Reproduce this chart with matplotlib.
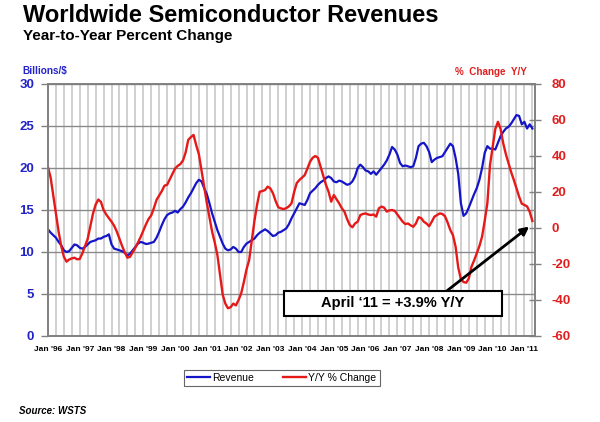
import numpy as np
import matplotlib
matplotlib.use('Agg')
import matplotlib.pyplot as plt
from matplotlib.patches import Rectangle

plt.rcParams['font.family'] = ['Liberation Sans', 'DejaVu Sans']
plt.rcParams['axes.unicode_minus'] = False

# Monthly data, Jan 1996 .. Apr 2011 (3-month average revenue, $B, and Y/Y % change)
revenue = [
    12.7, 12.3, 12.0, 11.7, 11.2, 10.8, 10.2, 10.0, 10.1, 10.5, 10.9, 10.8,   # 1996
    10.5, 10.4, 10.6, 10.9, 11.2, 11.3, 11.4, 11.6, 11.6, 11.8, 11.9, 12.1,   # 1997
    10.9, 10.4, 10.3, 10.2, 10.1, 9.9, 9.6, 9.8, 10.2, 10.6, 11.0, 11.2,      # 1998
    11.1, 10.95, 11.0, 11.1, 11.2, 11.7, 12.4, 13.2, 13.9, 14.4, 14.6, 14.7,  # 1999
    14.9, 14.7, 15.1, 15.4, 15.9, 16.5, 17.0, 17.6, 18.2, 18.6, 18.4, 17.6,   # 2000
    16.9, 15.8, 14.6, 13.6, 12.6, 11.8, 11.0, 10.4, 10.2, 10.3, 10.6, 10.4,   # 2001
    10.0, 10.0, 10.6, 11.0, 11.2, 11.4, 11.6, 12.0, 12.3, 12.5, 12.7, 12.5,   # 2002
    12.2, 11.9, 12.0, 12.3, 12.4, 12.6, 12.8, 13.3, 14.0, 14.6, 15.2, 15.8,   # 2003
    15.7, 15.6, 16.2, 17.0, 17.3, 17.6, 18.0, 18.3, 18.5, 18.8, 19.0, 18.8,   # 2004
    18.4, 18.3, 18.5, 18.4, 18.2, 18.0, 18.1, 18.4, 19.0, 20.0, 20.4, 20.1,   # 2005
    19.7, 19.6, 19.3, 19.6, 19.2, 19.6, 20.0, 20.4, 20.9, 21.6, 22.5, 22.2,   # 2006
    21.6, 20.6, 20.2, 20.3, 20.2, 20.1, 20.2, 21.2, 22.6, 22.9, 23.0, 22.6,   # 2007
    21.9, 20.7, 21.0, 21.2, 21.3, 21.4, 21.9, 22.4, 22.9, 22.6, 21.2, 19.3,   # 2008
    15.8, 14.3, 14.6, 15.3, 16.1, 16.9, 17.6, 18.6, 20.0, 21.8, 22.6, 22.3,   # 2009
    22.3, 22.2, 23.0, 23.8, 24.3, 24.7, 24.9, 25.3, 25.8, 26.3, 26.2, 25.2,   # 2010
    25.5, 24.7, 25.2, 24.7,                                                   # 2011
]

yoy_change = [
    33.7, 28, 18, 8, -2, -10, -16, -18.7, -17.5, -16.9, -16.5, -17.4,         # 1996
    -17.2, -14, -10, -6, 1, 8, 13, 15.8, 14.5, 10, 7.5, 5.5,                  # 1997
    3.5, 1.2, -2, -6, -10, -13.5, -16.5, -16, -13.5, -11, -8, -5,             # 1998
    -1.5, 2, 5, 7, 11, 15.6, 18, 20.5, 23.5, 24, 27, 30,                      # 1999
    33, 34.5, 35.5, 37.5, 42, 49, 50.5, 51.7, 46, 41, 32, 23,                 # 2000
    14, 6, -2, -8, -15, -26, -37, -42, -44.6, -44, -42, -43,                  # 2001
    -40, -36.3, -30, -23, -17.8, -7, 4, 13, 20.2, 20.5, 21.1, 23,             # 2002
    22, 19.3, 15, 11.5, 10.9, 10.5, 11, 12, 13.7, 20, 25, 26.7,               # 2003
    28, 29.4, 33, 36.8, 39, 40, 39, 34, 29, 24, 20.2, 14.6,                   # 2004
    18.3, 16, 13.7, 11, 9.1, 5, 1.7, 0.4, 2.5, 3.5, 7.2, 7.8,                 # 2005
    8.1, 7.5, 7.2, 7.5, 6.3, 10.9, 11.9, 11.3, 9.1, 9.8, 10, 9.5,             # 2006
    7.5, 5.4, 3.5, 2.2, 2.5, 1.5, 0.7, 2.5, 6, 5.5, 3.5, 2.5,                 # 2007
    1.0, 3.5, 6.3, 7.2, 8.1, 7.8, 6.5, 3, -1.1, -4, -10.4, -22,               # 2008
    -28.5, -30, -30.4, -28, -21.5, -18, -14, -10, -4.8, 4, 13.7, 35,          # 2009
    45, 55, 59, 55, 47, 41, 35.9, 31, 26.7, 22, 17.4, 13.5,                   # 2010
    12.8, 12.0, 9.0, 3.9,                                                     # 2011
]

year_labels = ["Jan '96", "Jan '97", "Jan '98", "Jan '99", "Jan '00", "Jan '01",
               "Jan '02", "Jan '03", "Jan '04", "Jan '05", "Jan '06", "Jan '07",
               "Jan '08", "Jan '09", "Jan '10", "Jan '11"]

months = np.arange(len(revenue))

blue = '#1414c8'
red = '#e61919'
txt_blue = '#2323c8'
txt_red = '#e01e1e'

fig = plt.figure(figsize=(6, 4.22), dpi=100)
ax = fig.add_axes([48/600, 1-336/422, 487/600, 252/422])
ax2 = ax.twinx()

ax.plot(months, revenue, color=blue, lw=1.6, label='Revenue')
ax2.plot(months, yoy_change, color=red, lw=1.7, label='Y/Y % Change')

ax.set_xlim(0, 184)
ax.set_ylim(0, 30)
ax2.set_ylim(-60, 80)

# grid
ax.set_xticks(np.arange(0, 181, 12))
ax.set_xticklabels(year_labels, fontsize=6, fontweight='bold')
ax.set_xticks(np.arange(0, 184, 3), minor=True)
ax.grid(True, axis='x', which='both', color='#c8c8c8', lw=1.2)
ax.grid(True, axis='y', which='major', color='#8a8a8a', lw=1.0)
ax.set_axisbelow(True)
ax.tick_params(axis='x', which='both', length=0, pad=7)

ax.set_yticks(np.arange(0, 31, 5))
ax.tick_params(axis='y', length=5, color='#808080', width=1, pad=5,
               labelsize=9.5, labelcolor=txt_blue)
for t in ax.get_yticklabels():
    t.set_fontweight('bold')

ax2.set_yticks(np.arange(-60, 81, 20))
ax2.tick_params(axis='y', direction='inout', length=8, color='#808080', width=1,
                pad=8, labelsize=9.5, labelcolor=txt_red)
for t in ax2.get_yticklabels():
    t.set_fontweight('bold')

for a in (ax, ax2):
    for s in a.spines.values():
        s.set_color('#808080')
        s.set_linewidth(1.2)

# titles
fig.text(23/600, 1-15/422, 'Worldwide Semiconductor Revenues', fontsize=17,
         fontweight='bold', va='center', ha='left')
fig.text(23/600, 1-36/422, 'Year-to-Year Percent Change', fontsize=11,
         fontweight='bold', va='center', ha='left')
fig.text(22/600, 1-71/422, 'Billions/$', fontsize=7.2, fontweight='bold',
         color=txt_blue, va='center', ha='left')
fig.text(527/600, 1-72/422, '%  Change  Y/Y', fontsize=7.1, fontweight='bold',
         color=txt_red, va='center', ha='right')
fig.text(19/600, 1-411/422, 'Source: WSTS', fontsize=7, fontweight='bold',
         style='italic', va='center', ha='left')

# legend
h1, l1 = ax.get_legend_handles_labels()
h2, l2 = ax2.get_legend_handles_labels()
leg = fig.legend(h1 + h2, l1 + l2, loc='center', bbox_to_anchor=(282/600, 1-378/422),
                 ncol=2, fontsize=7.5, frameon=True, fancybox=False,
                 handlelength=2.2, handletextpad=0.2, columnspacing=2.8,
                 borderpad=0.3)
leg.get_frame().set_edgecolor('#404040')
leg.get_frame().set_linewidth(0.8)

# callout box and arrow
fig.add_artist(Rectangle((284/600, 1-316/422), 218/600, 25/422, transform=fig.transFigure,
                         facecolor='white', edgecolor='black', lw=1.5, zorder=5))
fig.text(393/600, 1-303.5/422, 'April \u201811 = +3.9% Y/Y', fontsize=10.5,
         fontweight='bold', ha='center', va='center', zorder=6)
ax2.annotate('', xy=(181.8, 0.8), xytext=(446.7/600, 1-291/422),
             textcoords='figure fraction', annotation_clip=False,
             arrowprops=dict(arrowstyle='-|>', color='black', lw=2,
                             mutation_scale=12, shrinkA=0, shrinkB=0))

fig.savefig('out.png', dpi=100)
